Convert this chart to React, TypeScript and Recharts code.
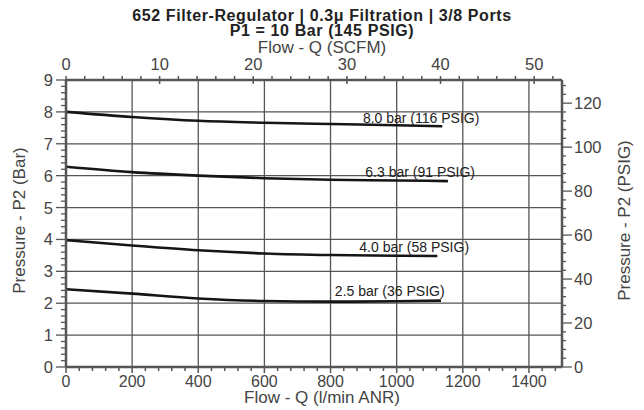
import { LineChart, Line, XAxis, YAxis, ReferenceLine, ReferenceDot } from 'recharts';

// --- flow curves, P2 (bar) vs flow (l/min ANR) ---
const flow80 = [0, 200, 400, 600, 800, 1000, 1138];
const pres80 = [8.0, 7.84, 7.72, 7.66, 7.62, 7.58, 7.55];
const flow63 = [0, 200, 400, 600, 800, 1000, 1155];
const pres63 = [6.28, 6.11, 6.0, 5.92, 5.87, 5.85, 5.83];
const flow40 = [0, 200, 400, 600, 800, 1000, 1123];
const pres40 = [3.98, 3.81, 3.66, 3.56, 3.51, 3.49, 3.48];
const flow25 = [0, 200, 400, 600, 800, 1000, 1134];
const pres25 = [2.44, 2.3, 2.15, 2.07, 2.05, 2.06, 2.08];

const curveLabels = ['8.0 bar (116 PSIG)', '6.3 bar (91 PSIG)', '4.0 bar (58 PSIG)', '2.5 bar (36 PSIG)'];
const labelFlow = [1074, 1071, 1053, 979];
const labelPres = [7.81, 6.11, 3.76, 2.38];

// axes
const flowMax = 1500; // l/min
const scfmMax = 1500 / 28.317;
const barMax = 9;
const psigMax = 9 * 14.5038;
const flowGrid = [200, 400, 600, 800, 1000, 1200, 1400];
const barGrid = [1, 2, 3, 4, 5, 6, 7, 8];
const flowTicks = Array.from({ length: 38 }, (_, i) => i * 40);
const scfmTicks = Array.from({ length: 27 }, (_, i) => i * 2);
const barTicks = Array.from({ length: 46 }, (_, i) => Math.round(i * 2) / 10);
const psigTicks = Array.from({ length: 33 }, (_, i) => i * 4);

const zip = (q: number[], p: number[]) => q.map((v, i) => ({ q: v, p: p[i] }));
const curves = [zip(flow80, pres80), zip(flow63, pres63), zip(flow40, pres40), zip(flow25, pres25)];
// invisible helper so the SCFM axis has something bound to it
const scfmSpan = [{ s: 0, p: 0 }, { s: scfmMax, p: 0 }];

const FONT = '"Liberation Sans", Arial, Helvetica, sans-serif';
const AXIS = '#555';
const TXT = '#444';
const FS = 16.5;

const BottomTick = ({ x, y, payload }: any) => {
    const v = payload.value;
    const major = v % 200 === 0;
    return (
        <g>
            <line x1={x} x2={x} y1={y} y2={y + (major ? 6 : 4)} stroke={AXIS} strokeWidth={1.5} />
            {major && (
                <text x={x} y={y + 20} textAnchor="middle" fontSize={16} fill={TXT} fontFamily={FONT}>{v}</text>
            )}
        </g>
    );
};

const TopTick = ({ x, y, payload }: any) => {
    const v = payload.value;
    const major = v % 10 === 0;
    return (
        <g>
            <line x1={x} x2={x} y1={major ? y + 4 : y} y2={y - 4} stroke={AXIS} strokeWidth={1.5} />
            {major && (
                <text x={x} y={y - 10} textAnchor="middle" fontSize={FS} fill={TXT} fontFamily={FONT}>{v}</text>
            )}
        </g>
    );
};

const LeftTick = ({ x, y, payload }: any) => {
    const v = payload.value;
    const major = Math.abs(v - Math.round(v)) < 1e-6;
    return (
        <g>
            <line x1={x} x2={x - (major ? 10 : 5)} y1={y} y2={y} stroke={AXIS} strokeWidth={1.3} />
            {major && (
                <text x={x - 13} y={y + 6} textAnchor="end" fontSize={FS} fill={TXT} fontFamily={FONT}>{Math.round(v)}</text>
            )}
        </g>
    );
};

const RightTick = ({ x, y, payload }: any) => {
    const v = payload.value;
    const major = v % 20 === 0;
    return (
        <g>
            <line x1={x} x2={x + (major ? 10 : 4)} y1={y} y2={y} stroke={AXIS} strokeWidth={1.3} />
            {major && (
                <text x={x + 12} y={y + 6} textAnchor="start" fontSize={FS} fill={TXT} fontFamily={FONT}>{v}</text>
            )}
        </g>
    );
};

const abs = (o: any) => ({ position: 'absolute' as const, fontFamily: FONT, lineHeight: 1, whiteSpace: 'nowrap' as const, ...o });

export default function App() {
    return (
        <div style={{ position: 'relative', width: 644, height: 410, background: '#fff' }}>
            <style>{'body{margin:0}'}</style>
            <div style={abs({ left: 0, width: 644, top: 8, textAlign: 'center', fontSize: 16, letterSpacing: 0.6, lineHeight: '15px', fontWeight: 'bold', color: '#222' })}>
                <div>652 Filter-Regulator | 0.3μ Filtration | 3/8 Ports</div>
                <div>P1 = 10 Bar (145 PSIG)</div>
            </div>
            <div style={abs({ left: 0, width: 644, top: 41, textAlign: 'center', fontSize: 17, lineHeight: '14px', color: TXT })}>
                Flow - Q (SCFM)
            </div>
            <div style={abs({ left: 0, width: 644, top: 391.5, textAlign: 'center', fontSize: 17, lineHeight: '12px', color: TXT })}>
                Flow - Q (l/min ANR)
            </div>
            <div style={abs({ left: 19 - 110, width: 220, top: 220 - 8.5, textAlign: 'center', fontSize: 17, color: TXT, transform: 'rotate(-90deg)' })}>
                Pressure - P2 (Bar)
            </div>
            <div style={abs({ left: 624 - 110, width: 220, top: 220 - 8.5, textAlign: 'center', fontSize: 17, color: TXT, transform: 'rotate(-90deg)' })}>
                Pressure - P2 (PSIG)
            </div>
            <LineChart width={644} height={410} margin={{ top: 50, right: 32, bottom: 13, left: 26 }}>
                <XAxis xAxisId="q" dataKey="q" type="number" orientation="bottom" domain={[0, flowMax]} allowDataOverflow
                    ticks={flowTicks} interval={0} height={30} tickSize={0} tickMargin={0} tickLine={false}
                    axisLine={{ stroke: AXIS, strokeWidth: 2.5 }} tick={<BottomTick />} />
                <XAxis xAxisId="scfm" dataKey="s" type="number" orientation="top" domain={[0, scfmMax]} allowDataOverflow
                    ticks={scfmTicks} interval={0} height={30} tickSize={0} tickMargin={0} tickLine={false}
                    axisLine={{ stroke: AXIS, strokeWidth: 2.5 }} tick={<TopTick />} />
                <YAxis yAxisId="bar" type="number" orientation="left" domain={[0, barMax]} allowDataOverflow
                    ticks={barTicks} interval={0} width={40} tickSize={0} tickMargin={0} tickLine={false}
                    axisLine={{ stroke: AXIS, strokeWidth: 2.5 }} tick={<LeftTick />} />
                <YAxis yAxisId="psig" type="number" orientation="right" domain={[0, psigMax]} allowDataOverflow
                    ticks={psigTicks} interval={0} width={50} tickSize={0} tickMargin={0} tickLine={false}
                    axisLine={{ stroke: AXIS, strokeWidth: 2.5 }} tick={<RightTick />} />
                {flowGrid.map((v) => (
                    <ReferenceLine key={`vx-${v}`} xAxisId="q" yAxisId="bar" x={v} stroke={AXIS} strokeWidth={1.3} />
                ))}
                {barGrid.map((v) => (
                    <ReferenceLine key={`hy-${v}`} xAxisId="q" yAxisId="bar" y={v} stroke={AXIS} strokeWidth={1.3} />
                ))}
                <Line xAxisId="scfm" yAxisId="bar" data={scfmSpan} dataKey="p" stroke="none" dot={false}
                    activeDot={false} isAnimationActive={false} legendType="none" />
                {curves.map((d, i) => (
                    <Line key={`c-${i}`} xAxisId="q" yAxisId="bar" data={d} dataKey="p" type="monotone"
                        stroke="#151515" strokeWidth={2.6} dot={false} isAnimationActive={false} />
                ))}
                {curveLabels.map((t, i) => (
                    <ReferenceDot key={`l-${i}`} xAxisId="q" yAxisId="bar" x={labelFlow[i]} y={labelPres[i]} r={0}
                        fill="none" stroke="none"
                        label={{ value: t, position: 'center', fontSize: 14, fill: '#222', fontFamily: FONT }} />
                ))}
            </LineChart>
        </div>
    );
}
